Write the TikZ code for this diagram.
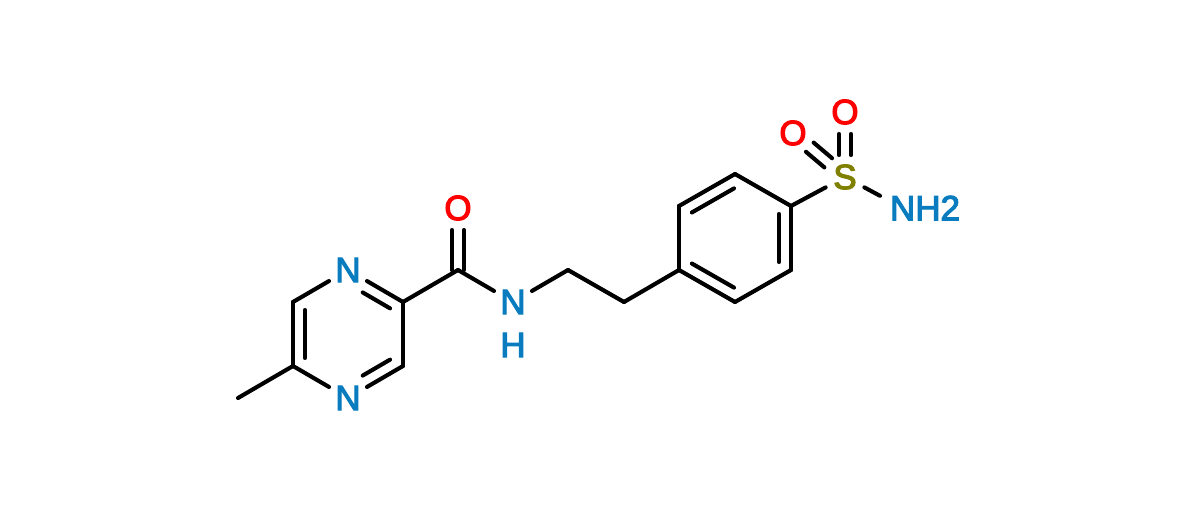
\documentclass[tikz,border=0pt]{standalone}
\usepackage{fontspec}
\setmainfont{Liberation Sans}
\newfontfamily\atomfont[FakeBold=3.2]{Liberation Sans}
\definecolor{atomblue}{RGB}{8,124,190}
\definecolor{atomred}{RGB}{255,0,0}
\definecolor{atomolive}{RGB}{128,128,0}
\usetikzlibrary{calc}
\tikzset{
    bond/.style={line width=4.1pt, line cap=round, black},
    atom/.style={circle, inner sep=0pt, outer sep=0pt, minimum size=44pt, font=\atomfont\fontsize{35}{35}\selectfont},
}
% inner line of a ring double bond: ends, shortening at each end, side
\newcommand{\innerbond}[5]{
    \draw[bond] ($(#1)!#3pt!(#2)!12pt!#5:(#2)$) -- ($(#2)!#4pt!(#1)!12pt!-#5:(#1)$);
}
% two parallel lines between an atom pair
\newcommand{\dblbond}[4]{
    \draw[bond] ($(#1)!#3pt!(#2)!6pt!90:(#2)$) -- ($(#2)!#4pt!(#1)!6pt!-90:(#1)$);
    \draw[bond] ($(#1)!#3pt!(#2)!6pt!-90:(#2)$) -- ($(#2)!#4pt!(#1)!6pt!90:(#1)$);
}
\begin{document}
\begin{tikzpicture}[x=1pt,y=-1pt]
    \useasboundingbox (0,0) rectangle (1200,511);

    % Pyrazine ring
    \coordinate (me) at (238,398);
    \coordinate (c5) at (293,366);
    \coordinate (c6) at (293,302);
    \node[atom, text=atomblue] (n1) at (348,270) {N};
    \coordinate (c2) at (403,302);
    \coordinate (c3) at (403,366);
    \node[atom, text=atomblue] (n4) at (348,398) {N};

    % Amide and ethyl chain
    \coordinate (c7) at (458,270);
    \node[atom, text=atomred] (o1) at (458,208) {O};
    \node[atom, text=atomblue] (n2) at (513,302) {N};
    \node[atom, text=atomblue] (h1) at (513,345) {H};
    \coordinate (c8) at (568,270);
    \coordinate (c9) at (624,302);

    % Benzene ring
    \coordinate (b1) at (679,270);
    \coordinate (b2) at (735,302);
    \coordinate (b3) at (791,270);
    \coordinate (b4) at (791,206);
    \coordinate (b5) at (735,174);
    \coordinate (b6) at (679,206);

    % Sulfonamide
    \node[atom, text=atomolive] (s1) at (845,177) {S};
    \node[atom, text=atomred] (o2) at (793,133) {O};
    \node[atom, text=atomred] (o3) at (845,112) {O};
    \node[inner sep=0pt, outer sep=0pt, text=atomblue, font=\atomfont\fontsize{35}{35}\selectfont] (nh) at (925,208) {NH2};

    % Bonds
    \draw[bond] (me) -- (c5);
    \draw[bond] (c5) -- (c6);
    \draw[bond] (c6) -- (n1);
    \draw[bond] (n1) -- (c2);
    \draw[bond] (c2) -- (c3);
    \draw[bond] (c3) -- (n4);
    \draw[bond] (n4) -- (c5);
    \draw[bond] (c2) -- (c7);
    \draw[bond] (c7) -- (n2);
    \draw[bond] (n2) -- (c8);
    \draw[bond] (c8) -- (c9);
    \draw[bond] (c9) -- (b1);
    \foreach \a/\b in {b1/b2,b2/b3,b3/b4,b4/b5,b5/b6,b6/b1} {
        \draw[bond] (\a) -- (\b);
    }
    \draw[bond] (b4) -- (s1);
    \draw[bond] (s1) -- ([xshift=-10pt]nh.north west);

    % Double bonds
    \innerbond{c5}{c6}{8}{8}{-90}
    \innerbond{c2}{n1}{8}{24}{90}
    \innerbond{c3}{n4}{8}{24}{-90}
    \innerbond{b5}{b6}{8}{8}{90}
    \innerbond{b3}{b4}{8}{8}{90}
    \innerbond{b1}{b2}{8}{8}{90}
    \dblbond{c7}{o1}{0}{22}
    \dblbond{s1}{o2}{22}{22}
    \dblbond{s1}{o3}{22}{22}
\end{tikzpicture}
\end{document}
